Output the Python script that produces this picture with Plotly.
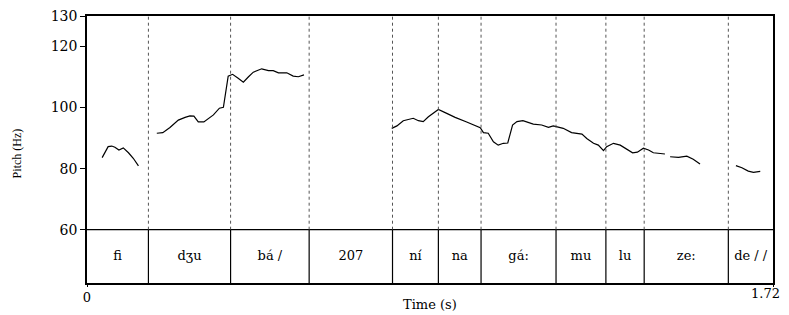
import plotly.graph_objects as go

# Pitch contour segments (time in s, pitch in Hz)
seg1_t = [0.038, 0.053, 0.062, 0.070, 0.080, 0.091, 0.104, 0.116, 0.129]
seg1_f = [83.6, 87.2, 87.4, 87.0, 86.1, 86.8, 85.2, 83.4, 80.9]

seg2_t = [0.175, 0.190, 0.208, 0.229, 0.246, 0.258, 0.268, 0.279, 0.293, 0.304,
          0.317, 0.332, 0.342, 0.354, 0.365, 0.379, 0.392, 0.405, 0.417, 0.438,
          0.455, 0.467, 0.480, 0.501, 0.517, 0.530, 0.544]
seg2_f = [91.6, 91.8, 93.5, 95.9, 96.8, 97.3, 97.2, 95.3, 95.3, 96.5,
          97.6, 99.8, 100.1, 110.3, 110.9, 109.6, 108.3, 110.1, 111.6, 112.7,
          112.1, 112.1, 111.4, 111.4, 110.3, 110.1, 110.7]

seg3_t = [0.764, 0.777, 0.793, 0.806, 0.818, 0.831, 0.843, 0.856, 0.881, 0.902,
          0.923, 0.952, 0.969, 0.986, 0.994, 1.006, 1.019, 1.031, 1.044, 1.055,
          1.067, 1.078, 1.093, 1.103, 1.119, 1.140, 1.157, 1.169, 1.182, 1.194,
          1.215, 1.241, 1.253, 1.270, 1.282, 1.295, 1.303, 1.320, 1.337, 1.353,
          1.368, 1.380, 1.395, 1.408, 1.420, 1.449]
seg3_f = [93.2, 94.0, 95.7, 96.2, 96.5, 95.7, 95.4, 97.0, 99.4, 98.1,
          96.8, 95.3, 94.3, 93.4, 91.8, 91.6, 88.8, 87.7, 88.3, 88.4,
          94.3, 95.4, 95.7, 95.3, 94.6, 94.3, 93.5, 94.0, 93.7, 93.2,
          91.8, 91.3, 89.9, 88.3, 87.7, 85.9, 87.2, 88.3, 87.7, 86.3,
          85.2, 85.4, 86.7, 86.1, 85.2, 84.8]

seg4_t = [1.462, 1.483, 1.504, 1.520, 1.537]
seg4_f = [83.9, 83.7, 84.1, 83.1, 81.5]

seg5_t = [1.627, 1.642, 1.658, 1.671, 1.688]
seg5_f = [81.0, 80.3, 79.2, 78.8, 79.1]

# Text tier
boundaries = [0.154, 0.360, 0.557, 0.766, 0.881, 0.988, 1.176, 1.301, 1.397, 1.608]
labels = ["fi", "dʒu", "bá /", "207", "ní", "na", "gá:", "mu", "lu", "ze:", "de / /"]

t_max = 1.72
t_max_label = "1.72"
y_top = 130
tier_top = 60
y_bottom = 42.54
y_ticks = [60, 80, 100, 120, 130]

fig = go.Figure()

# Pitch line (segments separated by gaps)
xs, ys = [], []
for tt, ff in [(seg1_t, seg1_f), (seg2_t, seg2_f), (seg3_t, seg3_f),
               (seg4_t, seg4_f), (seg5_t, seg5_f)]:
    xs += tt + [None]
    ys += ff + [None]
fig.add_trace(go.Scatter(x=xs, y=ys, mode="lines",
                         line=dict(color="black", width=1.2),
                         hoverinfo="skip", showlegend=False))

# Tier labels
edges = [0] + boundaries + [t_max]
mids = [(edges[i] + edges[i + 1]) / 2 for i in range(len(labels))]
fig.add_trace(go.Scatter(x=mids, y=[(tier_top + y_bottom) / 2] * len(labels),
                         mode="text", text=labels,
                         textfont=dict(family="DejaVu Serif", size=13, color="black"),
                         hoverinfo="skip", showlegend=False))

shapes = []
# tier top line
shapes.append(dict(type="line", xref="x", yref="y", x0=0, x1=t_max,
                   y0=tier_top, y1=tier_top, line=dict(color="black", width=1.2)))
for b in boundaries:
    shapes.append(dict(type="line", xref="x", yref="y", x0=b, x1=b,
                       y0=tier_top, y1=y_top,
                       line=dict(color="#555555", width=1, dash="dot")))
    shapes.append(dict(type="line", xref="x", yref="y", x0=b, x1=b,
                       y0=y_bottom, y1=tier_top,
                       line=dict(color="black", width=1.2)))

# page body has an 8px default margin; figure sized to fit the window
fig.update_layout(
    width=781, height=307,
    margin=dict(l=79, r=16, t=8, b=32, autoexpand=False),
    paper_bgcolor="white", plot_bgcolor="white",
    shapes=shapes,
    font=dict(family="DejaVu Serif", color="black"),
    annotations=[
        dict(text="Time (s)", xref="paper", yref="paper", x=0.5, y=0,
             xanchor="center", yanchor="top", yshift=-12, showarrow=False,
             font=dict(family="DejaVu Serif", size=13, color="black")),
        dict(text="Pitch (Hz)", xref="paper", yref="y", x=0,
             y=(60 + 130) / 2 - 10, xshift=-70, textangle=-90,
             xanchor="center", yanchor="middle", showarrow=False,
             font=dict(family="Liberation Serif", size=12, color="black")),
        dict(text=t_max_label, xref="x", yref="paper", x=t_max, y=0,
             xanchor="right", yanchor="top", xshift=9, yshift=-1,
             showarrow=False,
             font=dict(family="DejaVu Serif", size=13, color="black")),
    ],
)

fig.update_xaxes(range=[0, t_max], tickvals=[0, t_max], ticktext=["0", " "],
                 automargin=False, ticklabeloverflow="allow",
                 showgrid=False, zeroline=False, showline=True, mirror=True,
                 linecolor="black", linewidth=1.5, ticks="outside", ticklen=2,
                 tickcolor="black", tickfont=dict(family="DejaVu Serif", size=13))
fig.update_yaxes(range=[y_bottom, y_top], tickvals=y_ticks,
                 automargin=False, ticklabeloverflow="allow",
                 showgrid=False, zeroline=False, showline=True, mirror=True,
                 linecolor="black", linewidth=1.5, ticks="outside", ticklen=5,
                 tickcolor="black", tickfont=dict(family="DejaVu Serif", size=14))

fig.write_html("out.html")
